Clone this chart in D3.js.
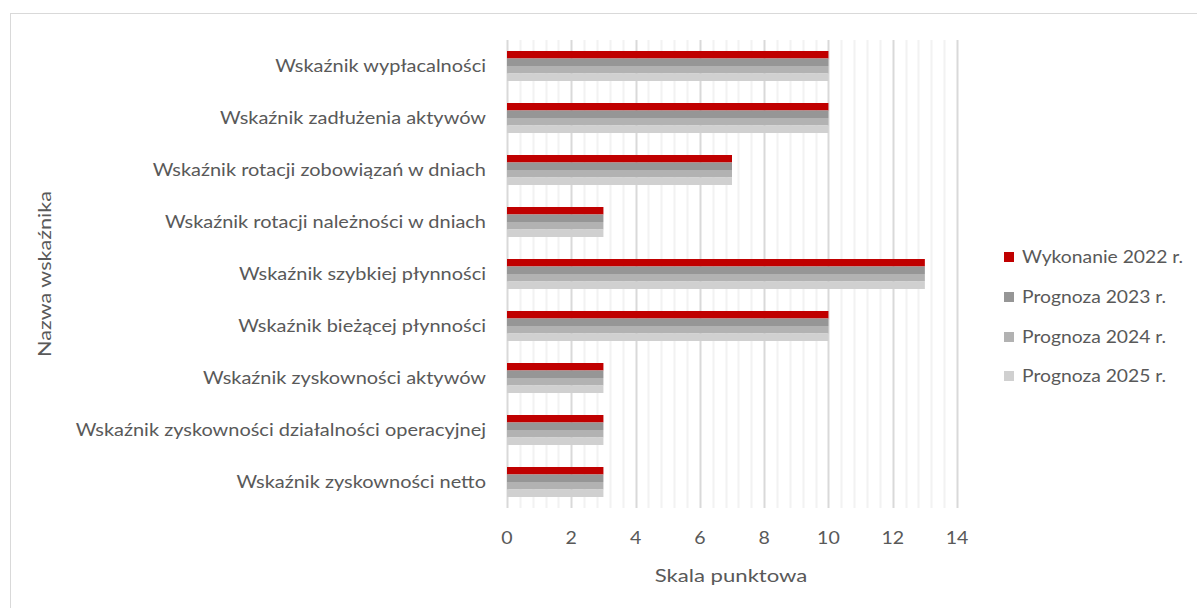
<!DOCTYPE html>
<html>
<head>
<meta charset="utf-8">
<script src="https://cdn.jsdelivr.net/npm/d3@7"></script>
<style>
  body { margin: 0; background: #fff; }
  text { font-family: Lato, "Open Sans", sans-serif; fill: #595959; }
</style>
</head>
<body>
<script>
// categories (top to bottom) and series
var categories = [
  "Wskaźnik wypłacalności",
  "Wskaźnik zadłużenia aktywów",
  "Wskaźnik rotacji zobowiązań w dniach",
  "Wskaźnik rotacji należności w dniach",
  "Wskaźnik szybkiej płynności",
  "Wskaźnik bieżącej płynności",
  "Wskaźnik zyskowności aktywów",
  "Wskaźnik zyskowności działalności operacyjnej",
  "Wskaźnik zyskowności netto"
];
var seriesNames = ["Wykonanie 2022 r.", "Prognoza 2023 r.", "Prognoza 2024 r.", "Prognoza 2025 r."];
var wykonanie2022 = [10, 10, 7, 3, 13, 10, 3, 3, 3];
var prognoza2023  = [10, 10, 7, 3, 13, 10, 3, 3, 3];
var prognoza2024  = [10, 10, 7, 3, 13, 10, 3, 3, 3];
var prognoza2025  = [10, 10, 7, 3, 13, 10, 3, 3, 3];
var xTicks = [0, 2, 4, 6, 8, 10, 12, 14];
var colors = ["#C00000", "#969696", "#B2B2B2", "#D0D0D0"];

var allSeries = [wykonanie2022, prognoza2023, prognoza2024, prognoza2025];

var W = 1197, H = 608;

var svg = d3.select("body").append("svg")
  .attr("width", W).attr("height", H);

// outer frame
svg.append("rect")
  .attr("x", 10.5).attr("y", 13.5)
  .attr("width", W + 20).attr("height", H + 20)
  .attr("fill", "none").attr("stroke", "#D9D9D9");

var x = d3.scaleLinear().domain([0, 14]).range([507, 957]);
var y = d3.scaleBand().domain(categories).range([40, 508]);
var inner = d3.scaleBand().domain(d3.range(4)).range([11, 41]).padding(0);

// minor gridlines every 0.4
var minor = d3.range(0, 14.001, 0.4).filter(function(v) { return Math.abs(v / 2 - Math.round(v / 2)) > 0.01; });
svg.append("g").selectAll("line").data(minor).enter().append("line")
  .attr("x1", function(d) { return Math.round(x(d)) + 0.5; })
  .attr("x2", function(d) { return Math.round(x(d)) + 0.5; })
  .attr("y1", 40).attr("y2", 508)
  .attr("stroke", "#F2F2F2").attr("stroke-width", 2);

// major gridlines
svg.append("g").selectAll("line").data(xTicks).enter().append("line")
  .attr("x1", function(d) { return Math.round(x(d)) + 0.5; })
  .attr("x2", function(d) { return Math.round(x(d)) + 0.5; })
  .attr("y1", 40).attr("y2", 508)
  .attr("stroke", "#D9D9D9").attr("stroke-width", 2);

// bars
allSeries.forEach(function(vals, s) {
  svg.append("g").selectAll("rect").data(vals).enter().append("rect")
    .attr("x", x(0))
    .attr("y", function(d, i) { return y(categories[i]) + inner(s); })
    .attr("width", function(d) { return x(d) - x(0); })
    .attr("height", inner.bandwidth())
    .attr("fill", colors[s]);
});

// the reference text is wide, stretch it a bit horizontally
function place(px, py, sx) {
  return "translate(" + px + "," + py + ") scale(" + sx + ",1)";
}

// category labels
svg.append("g").selectAll("text").data(categories).enter().append("text")
  .attr("transform", function(d) { return place(486, y(d) + y.bandwidth() / 2, 1.21); })
  .attr("dy", "0.35em")
  .attr("text-anchor", "end")
  .style("font-size", "16.5px")
  .text(function(d) { return d; });

// x tick labels
svg.append("g").selectAll("text").data(xTicks).enter().append("text")
  .attr("transform", function(d) { return place(x(d), 538, 1.15); })
  .attr("dy", "0.35em")
  .attr("text-anchor", "middle")
  .style("font-size", "17px")
  .text(function(d) { return d; });

// axis titles
svg.append("text")
  .attr("transform", place(731, 576, 1.23))
  .attr("dy", "0.35em")
  .attr("text-anchor", "middle")
  .style("font-size", "18px")
  .text("Skala punktowa");

svg.append("text")
  .attr("transform", "translate(45,274) rotate(-90) scale(1.2,1)")
  .attr("dy", "0.35em")
  .attr("text-anchor", "middle")
  .style("font-size", "18px")
  .text("Nazwa wskaźnika");

// legend
var legendY = [257, 297, 337, 376];
var legend = svg.append("g").selectAll("g").data(seriesNames).enter().append("g")
  .attr("transform", function(d, i) { return "translate(1004," + legendY[i] + ")"; });
legend.append("rect")
  .attr("x", 0).attr("y", -5).attr("width", 10).attr("height", 10)
  .attr("fill", function(d, i) { return colors[i]; });
legend.append("text")
  .attr("transform", place(18, 0, 1.17))
  .attr("dy", "0.35em")
  .style("font-size", "16.5px")
  .text(function(d) { return d; });
</script>
</body>
</html>
